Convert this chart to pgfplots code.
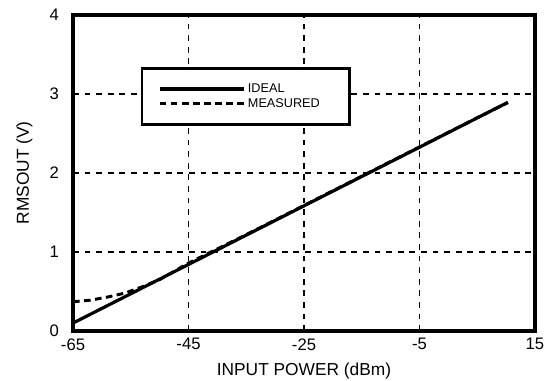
\documentclass[border=0pt]{standalone}
\usepackage{pgfplots}
\pgfplotsset{compat=1.18}
\usepackage{fontspec}
\setmainfont{Liberation Sans}
\begin{document}
\begin{tikzpicture}
\begin{axis}[
  scale only axis,
  width=346.5pt, height=237pt,
  xmin=-65, xmax=15, ymin=0, ymax=4,
  xtick={-65,-45,-25,-5,15},
  ytick={0,1,2,3,4},
  tick style={draw=none},
  /pgf/number format/assume math mode=true,
  ticklabel style={font=\fontsize{12.5}{14}\selectfont},
  xticklabel style={yshift=-2pt},
  yticklabel style={xshift=-7pt},
  axis line style={line width=2.6pt},
  grid=major,
  major grid style={black, line width=1.3pt, dash pattern=on 4.3pt off 4.4pt},
  xlabel={INPUT POWER (dBm)},
  ylabel={RMSOUT (V)},
  label style={font=\fontsize{13}{15}\selectfont},
  xlabel style={yshift=-3pt},
  ylabel style={yshift=6pt},
  legend style={at={(rel axis cs:0.147,0.835)}, anchor=north west,
    draw=black, line width=1.8pt, inner xsep=12pt, inner ysep=9.5pt,
    font=\fontsize{9.5}{10}\selectfont, row sep=-1pt,
    text width=62pt},
  legend cell align=left,
  legend image code/.code={\draw[#1] (0pt,0pt) -- (63pt,0pt);},
]
\coordinate (O) at (rel axis cs:0,0);
\addplot[black, line width=2.4pt] coordinates {(-65,0.10) (10.3,2.894)};
\addlegendentry{IDEAL}
\addplot[black, line width=2.2pt, dash pattern=on 5pt off 3.3pt] coordinates {
(-65,0.37) (-62,0.39) (-59,0.43) (-56,0.48) (-53,0.56) (-50,0.65) (-45,0.86)
(-40,1.04) (-35,1.22) (-25,1.59) (-15,1.96) (-5,2.33) (5,2.70) (10.3,2.89)};
\addlegendentry{MEASURED}
\end{axis}
\pgfresetboundingbox
\path (O) ++(-54.75pt,-37.5pt) rectangle ++(410.25pt,285.75pt);
\end{tikzpicture}
\end{document}
